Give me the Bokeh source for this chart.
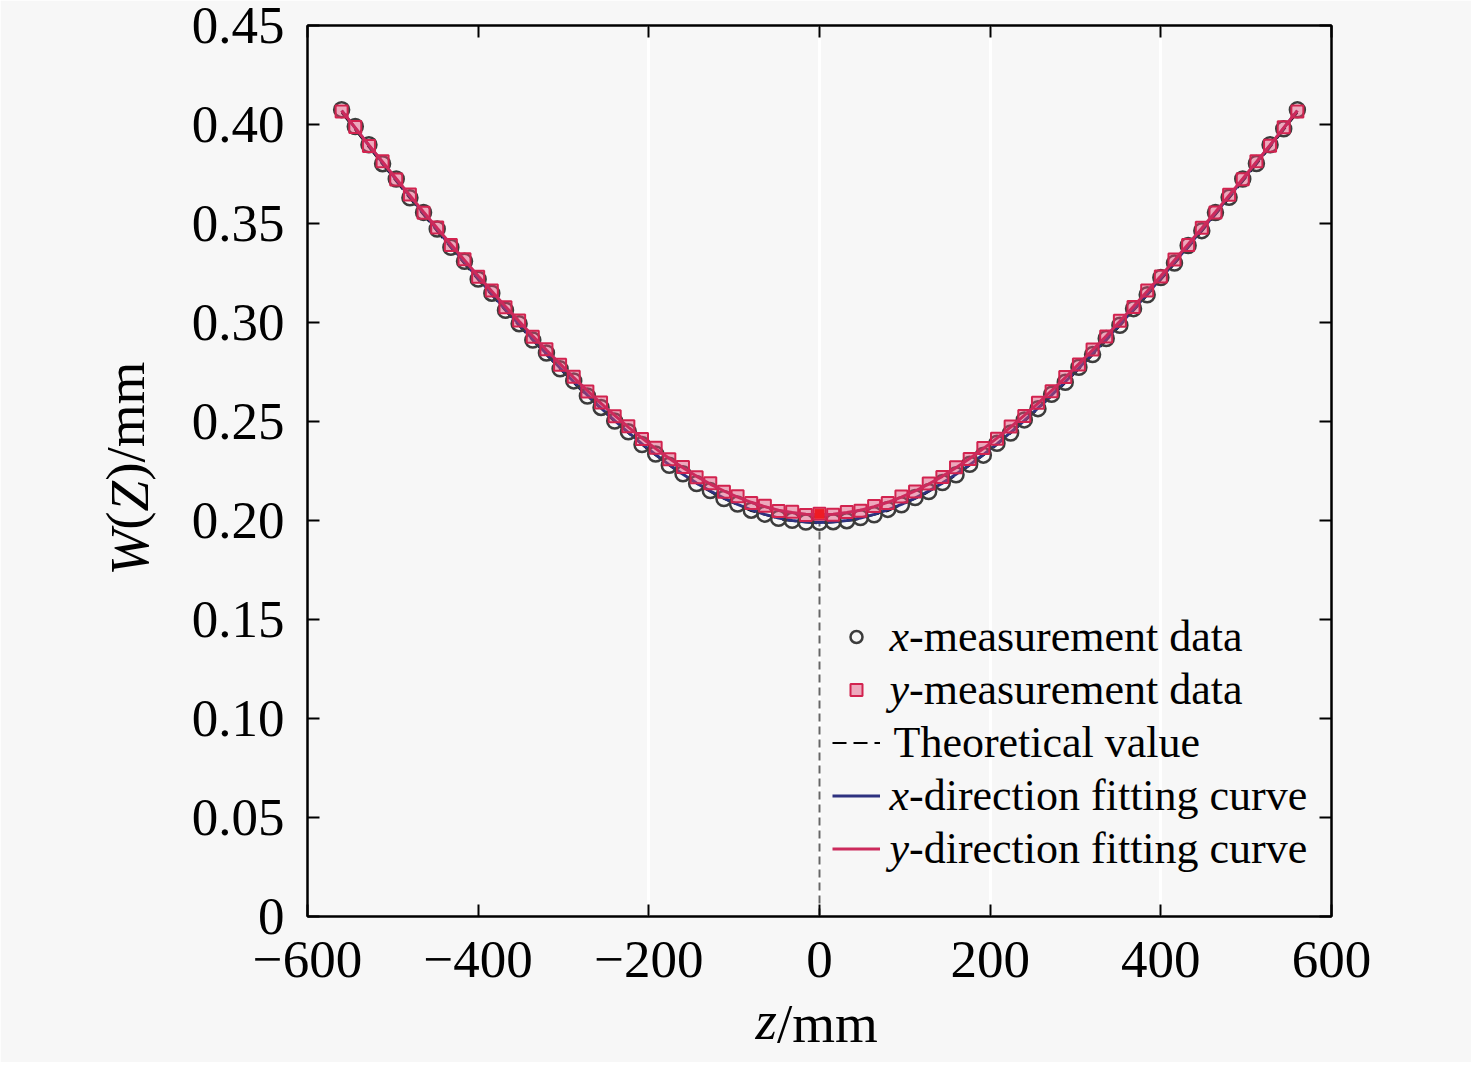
from bokeh.plotting import figure
from bokeh.models import (FixedTicker, LinearAxis, Legend, LegendItem, Label,
                          CustomJSTickFormatter, Range1d)
from bokeh.embed import file_html
from bokeh.resources import INLINE

# ---------------- data ----------------
z_mm = [-560, -544, -528, -512, -496, -480, -464, -448, -432, -416, -400, -384,
        -368, -352, -336, -320, -304, -288, -272, -256, -240, -224, -208, -192,
        -176, -160, -144, -128, -112, -96, -80, -64, -48, -32, -16, 0,
        16, 32, 48, 64, 80, 96, 112, 128, 144, 160, 176, 192, 208, 224, 240,
        256, 272, 288, 304, 320, 336, 352, 368, 384, 400, 416, 432, 448, 464,
        480, 496, 512, 528, 544, 560]

x_measured = [0.4075, 0.3990, 0.3898, 0.3802, 0.3725, 0.3630, 0.3556, 0.3472, 0.3380, 0.3309,
              0.3219, 0.3148, 0.3062, 0.2994, 0.2911, 0.2846, 0.2766, 0.2705, 0.2629, 0.2571,
              0.2502, 0.2448, 0.2384, 0.2336, 0.2279, 0.2236, 0.2187, 0.2151, 0.2111, 0.2083,
              0.2052, 0.2032, 0.2011, 0.2001, 0.1992, 0.1991,
              0.1994, 0.1999, 0.2015, 0.2029, 0.2056, 0.2079, 0.2116, 0.2146, 0.2192, 0.2231,
              0.2284, 0.2330, 0.2390, 0.2442, 0.2508, 0.2565, 0.2637, 0.2698, 0.2774, 0.2838,
              0.2919, 0.2986, 0.3070, 0.3140, 0.3227, 0.3300, 0.3389, 0.3464, 0.3555, 0.3632,
              0.3725, 0.3803, 0.3898, 0.3978, 0.4074]

y_measured = [0.4066, 0.3987, 0.3892, 0.3815, 0.3722, 0.3646, 0.3554, 0.3480, 0.3391, 0.3319,
              0.3231, 0.3162, 0.3077, 0.3010, 0.2928, 0.2865, 0.2787, 0.2726, 0.2652, 0.2596,
              0.2527, 0.2476, 0.2412, 0.2367, 0.2309, 0.2270, 0.2219, 0.2188, 0.2145, 0.2122,
              0.2088, 0.2074, 0.2048, 0.2044, 0.2028, 0.2034,
              0.2029, 0.2043, 0.2049, 0.2073, 0.2089, 0.2121, 0.2146, 0.2187, 0.2220, 0.2269,
              0.2310, 0.2366, 0.2413, 0.2475, 0.2528, 0.2595, 0.2653, 0.2725, 0.2788, 0.2864,
              0.2929, 0.3009, 0.3078, 0.3161, 0.3232, 0.3318, 0.3392, 0.3479, 0.3555, 0.3645,
              0.3723, 0.3814, 0.3893, 0.3986, 0.4066]

x_fit = [0.4070, 0.3982, 0.3894, 0.3807, 0.3721, 0.3636, 0.3551, 0.3468, 0.3385, 0.3304,
         0.3223, 0.3144, 0.3066, 0.2990, 0.2915, 0.2842, 0.2770, 0.2701, 0.2633, 0.2568,
         0.2505, 0.2445, 0.2387, 0.2333, 0.2281, 0.2234, 0.2189, 0.2149, 0.2113, 0.2081,
         0.2054, 0.2031, 0.2013, 0.2000, 0.1993, 0.1990,
         0.1993, 0.2000, 0.2013, 0.2031, 0.2054, 0.2081, 0.2113, 0.2149, 0.2189, 0.2234,
         0.2281, 0.2333, 0.2387, 0.2445, 0.2505, 0.2568, 0.2633, 0.2701, 0.2770, 0.2842,
         0.2915, 0.2990, 0.3066, 0.3144, 0.3223, 0.3304, 0.3385, 0.3468, 0.3551, 0.3636,
         0.3721, 0.3807, 0.3894, 0.3982, 0.4070]

y_fit = [0.4070, 0.3983, 0.3896, 0.3811, 0.3726, 0.3642, 0.3558, 0.3476, 0.3395, 0.3315,
         0.3235, 0.3158, 0.3081, 0.3006, 0.2932, 0.2861, 0.2791, 0.2722, 0.2656, 0.2592,
         0.2531, 0.2472, 0.2416, 0.2363, 0.2313, 0.2266, 0.2223, 0.2184, 0.2149, 0.2118,
         0.2092, 0.2070, 0.2052, 0.2040, 0.2032, 0.2030,
         0.2032, 0.2040, 0.2052, 0.2070, 0.2092, 0.2118, 0.2149, 0.2184, 0.2223, 0.2266,
         0.2313, 0.2363, 0.2416, 0.2472, 0.2531, 0.2592, 0.2656, 0.2722, 0.2791, 0.2861,
         0.2932, 0.3006, 0.3081, 0.3158, 0.3235, 0.3315, 0.3395, 0.3476, 0.3558, 0.3642,
         0.3726, 0.3811, 0.3896, 0.3983, 0.4070]

z_theory = [-560, -520, -480, -440, -400, -360, -320, -280, -240, -200, -160, -120, -80, -40, 0,
            40, 80, 120, 160, 200, 240, 280, 320, 360, 400, 440, 480, 520, 560]
w_theory = [0.4060, 0.3841, 0.3627, 0.3418, 0.3215, 0.3020, 0.2835, 0.2660, 0.2499, 0.2354,
            0.2228, 0.2125, 0.2048, 0.2001, 0.1985, 0.2001, 0.2048, 0.2125, 0.2228, 0.2354,
            0.2499, 0.2660, 0.2835, 0.3020, 0.3215, 0.3418, 0.3627, 0.3841, 0.4060]

x_ticks = [-600, -400, -200, 0, 200, 400, 600]
x_tick_labels = ["\u2212600", "\u2212400", "\u2212200", "0", "200", "400", "600"]
y_ticks = [0, 0.05, 0.10, 0.15, 0.20, 0.25, 0.30, 0.35, 0.40, 0.45]
y_tick_labels = ["0", "0.05", "0.10", "0.15", "0.20", "0.25", "0.30", "0.35", "0.40", "0.45"]
grid_x = [-200, 0, 200, 400]

legend_labels = [("x", "-measurement data"), ("y", "-measurement data"),
                 ("", "Theoretical value"), ("x", "-direction fitting curve"),
                 ("y", "-direction fitting curve")]

# axis titles, split into italic / upright pieces
x_title_pieces = [("z", True), ("/mm", False)]
y_title_pieces = [("W", True), ("(", False), ("Z", True), (")/mm", False)]

# ---------------- style / geometry ----------------
FONT = "Liberation Serif"
BG = "#f7f7f7"
C_XPT = "#3c3c3c"
C_YPT = "#d2234f"
C_XFIT = "#2e3280"
C_YFIT = "#cc2a5c"
FRAME_W, FRAME_H = 1024, 891
X0, X1, Y0, Y1 = -600, 600, 0, 0.45
TITLE_PX = 55
# advance widths (em) of the title pieces in Times-metric serif fonts
ADV = {"z": 0.389, "/mm": 1.834, "W": 0.833, "(": 0.333, "Z": 0.556, ")/mm": 2.167}

p = figure(frame_width=FRAME_W, frame_height=FRAME_H,
           x_range=Range1d(X0, X1), y_range=Range1d(Y0, Y1),
           output_backend="svg", toolbar_location=None,
           min_border_left=307, min_border_right=140, min_border_top=25,
           min_border_bottom=146,
           background_fill_color=BG, border_fill_color=BG,
           outline_line_color="black", outline_line_width=2)

lab_fmt = """
const i = tk.findIndex(t => Math.abs(t - tick) < 1e-9);
return i >= 0 ? tl[i] : "";
"""

def style_axis(ax, ticks, labels=None):
    ax.ticker = FixedTicker(ticks=ticks)
    ax.axis_line_width = 2
    ax.axis_line_color = "black"
    ax.major_tick_in = 12
    ax.major_tick_out = 0
    ax.major_tick_line_width = 2
    ax.minor_tick_line_color = None
    if labels is None:
        ax.formatter = CustomJSTickFormatter(code="return '';")
        ax.major_label_text_font_size = "1px"
        ax.major_label_standoff = 0
    else:
        ax.formatter = CustomJSTickFormatter(args=dict(tk=ticks, tl=labels), code=lab_fmt)
        ax.major_label_text_font = FONT
        ax.major_label_text_font_size = "53px"
        ax.major_label_text_color = "black"

style_axis(p.xaxis[0], x_ticks, x_tick_labels)
p.xaxis[0].major_label_standoff = 25
style_axis(p.yaxis[0], y_ticks, y_tick_labels)
p.yaxis[0].major_label_standoff = 23

ax_top = LinearAxis()
style_axis(ax_top, x_ticks)
p.add_layout(ax_top, "above")
ax_right = LinearAxis()
style_axis(ax_right, y_ticks)
p.add_layout(ax_right, "right")

p.xgrid.ticker = FixedTicker(ticks=grid_x)
p.xgrid.grid_line_color = "white"
p.xgrid.grid_line_width = 3
p.ygrid.visible = False

# ---------------- axis titles as label-only axes (italic + upright pieces) ----------------
def title_axes(pieces, side, start_px, to_data, standoff, back_shift, orientation):
    pos = start_px
    centres = []
    for text, _ in pieces:
        w = ADV[text] * TITLE_PX
        centres.append((to_data(pos + w / 2), text))
        pos += w
    for k, italic in enumerate((True, False)):
        ticks = [c for (c, t), (_, it) in zip(centres, pieces) if it == italic]
        labels = [t for (c, t), (_, it) in zip(centres, pieces) if it == italic]
        ax = LinearAxis(ticker=FixedTicker(ticks=ticks),
                        formatter=CustomJSTickFormatter(args=dict(tk=ticks, tl=labels),
                                                        code=lab_fmt),
                        axis_line_color=None, major_tick_line_color=None,
                        minor_tick_line_color=None,
                        major_label_text_font=FONT,
                        major_label_text_font_style="italic" if italic else "normal",
                        major_label_text_font_size=f"{TITLE_PX}px",
                        major_label_text_color="black",
                        major_label_standoff=standoff if k == 0 else back_shift,
                        major_label_orientation=orientation)
        p.add_layout(ax, side)

title_axes(x_title_pieces, "below", 448,
           lambda px: X0 + px * (X1 - X0) / FRAME_W, standoff=4, back_shift=-67,
           orientation="horizontal")
title_axes(y_title_pieces, "left", 341,
           lambda px: Y0 + px * (Y1 - Y0) / FRAME_H, standoff=22, back_shift=-66,
           orientation="vertical")

# ---------------- glyphs ----------------
r_theo = p.line(z_theory, w_theory, line_color="black", line_width=2, line_dash="14 7")
p.line([z_theory[14], z_theory[14]], [0, w_theory[14]], line_color="#666666",
       line_width=2, line_dash="8 5")
r_xfit = p.line(z_mm, x_fit, line_color=C_XFIT, line_width=3)
r_xpt = p.scatter(z_mm, x_measured, marker="circle", size=15, line_color=C_XPT,
                  line_width=2.5, fill_color=None)
r_ypt = p.scatter(z_mm, y_measured, marker="square", size=12, line_color=C_YPT,
                  line_width=2, fill_color="#e04a76", fill_alpha=0.45)
r_yfit = p.line(z_mm, y_fit, line_color=C_YFIT, line_width=3)
p.scatter([z_mm[35]], [y_measured[35]], marker="square", size=9, line_color="#ee1c24",
          fill_color="#ee1c24")

# ---------------- legend ----------------
ROW = 53
LEG_X, LEG_BOTTOM = 525, 41.5
leg_common = dict(orientation="vertical", glyph_height=ROW, label_height=ROW, label_width=0,
                  spacing=0, padding=0, margin=0, label_standoff=0,
                  border_line_alpha=0, background_fill_alpha=0,
                  label_text_font=FONT, label_text_font_size="20px")
leg_pts = Legend(items=[LegendItem(label=" ", renderers=[r]) for r in (r_xpt, r_ypt)],
                 location=(LEG_X + 9, LEG_BOTTOM + 3 * ROW), glyph_width=30, **leg_common)
leg_lines = Legend(items=[LegendItem(label=" ", renderers=[r]) for r in (r_theo, r_xfit, r_yfit)],
                   location=(LEG_X, LEG_BOTTOM), glyph_width=48, **leg_common)
p.add_layout(leg_pts)
p.add_layout(leg_lines)

top_center = LEG_BOTTOM + ROW * 5 - ROW / 2
for i, (it, rest) in enumerate(legend_labels):
    yy = top_center - i * ROW
    if it:
        p.add_layout(Label(x=LEG_X + 57, y=yy, x_units="screen", y_units="screen",
                           text=it, text_font=FONT, text_font_style="italic",
                           text_font_size="44px", text_baseline="middle",
                           text_align="left", text_color="black"))
        p.add_layout(Label(x=LEG_X + 57 + 19.5, y=yy, x_units="screen", y_units="screen",
                           text=rest, text_font=FONT, text_font_size="44px",
                           text_baseline="middle", text_align="left", text_color="black"))
    else:
        p.add_layout(Label(x=LEG_X + 61, y=yy, x_units="screen", y_units="screen",
                           text=rest, text_font=FONT, text_font_size="44px",
                           text_baseline="middle", text_align="left", text_color="black"))

open("out.html", "w").write(file_html(p, INLINE))
